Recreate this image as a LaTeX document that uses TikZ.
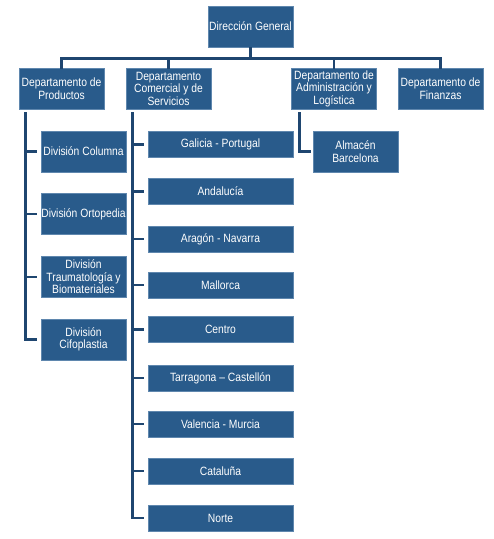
\documentclass[tikz,border=0pt]{standalone}
\usepackage{fontspec}
\setmainfont[FakeStretch=0.86]{Liberation Sans}
\definecolor{boxfill}{HTML}{295B8B}
\definecolor{boxedge}{HTML}{5F87AE}
\definecolor{linecol}{HTML}{1F4670}
\begin{document}
\begin{tikzpicture}[x=1pt,y=-1pt,
  orgbox/.style={rectangle,fill=boxfill,draw=boxedge,line width=0.6pt,text=white,
    align=center,inner sep=0pt,font=\fontsize{12}{12.5}\selectfont},
  bigbox/.style={orgbox,minimum width=85pt,minimum height=41pt},
  regbox/.style={orgbox,minimum width=145pt,minimum height=26pt},
  link/.style={draw=linecol,line width=2.6pt}]
\useasboundingbox (0,0) rectangle (494,539);
% top
\node[bigbox] (dg) at (250.5,26.5) {Dirección General};
\node[bigbox] (prod) at (61.5,88.5) {Departamento de\\Productos};
\node[bigbox] (com) at (168.5,88.5) {Departamento\\Comercial y de\\Servicios};
\node[bigbox] (adm) at (334,88.5) {Departamento de\\Administración y\\Logística};
\node[bigbox] (fin) at (440.5,88.5) {Departamento de\\Finanzas};
% divisions
\node[bigbox] (d1) at (83.5,151.5) {División Columna};
\node[bigbox] (d2) at (83.5,214) {División Ortopedia};
\node[bigbox] (d3) at (83.5,277) {División\\Traumatología y\\Biomateriales};
\node[bigbox] (d4) at (83.5,339.5) {División\\Cifoplastia};
% regions
\node[regbox] (r1) at (220.5,144.5) {Galicia - Portugal};
\node[regbox] (r2) at (220.5,191.5) {Andalucía};
\node[regbox] (r3) at (220.5,239) {Aragón - Navarra};
\node[regbox] (r4) at (220.5,285) {Mallorca};
\node[regbox] (r5) at (220.5,329.5) {Centro};
\node[regbox] (r6) at (220.5,378) {Tarragona – Castellón};
\node[regbox] (r7) at (220.5,424) {Valencia - Murcia};
\node[regbox] (r8) at (220.5,471) {Cataluña};
\node[regbox] (r9) at (220.5,518) {Norte};
% almacen
\node[bigbox] (alm) at (355.5,151.5) {Almacén\\Barcelona};
% top bus
\coordinate (bus) at (250.5,58.5);
\draw[link] (dg.south) -- (bus);
\draw[link] ([yshift=-1pt]prod.north) |- (bus) -| ([yshift=-1pt]fin.north);
\draw[link] (com.north |- bus) -- ([yshift=-1pt]com.north);
\draw[link] (adm.north |- bus) -- ([yshift=-1pt]adm.north);
% productos tree
\coordinate (pv) at ([xshift=7pt,yshift=-3pt]prod.south west);
\draw[link] (pv) |- ([xshift=-4pt]d4.west);
\foreach \n in {d1,d2,d3} \draw[link] (pv |- \n.west) -- ([xshift=-4pt]\n.west);
% comercial tree
\coordinate (cv) at ([xshift=7pt,yshift=-3pt]com.south west);
\draw[link] (cv) |- ([xshift=-4pt]r9.west);
\foreach \n in {r1,r2,r3,r4,r5,r6,r7,r8} \draw[link] (cv |- \n.west) -- ([xshift=-4pt]\n.west);
% admin tree
\coordinate (av) at ([xshift=8pt,yshift=-3pt]adm.south west);
\draw[link] (av) |- ([xshift=-2pt]alm.west);
\end{tikzpicture}
\end{document}
